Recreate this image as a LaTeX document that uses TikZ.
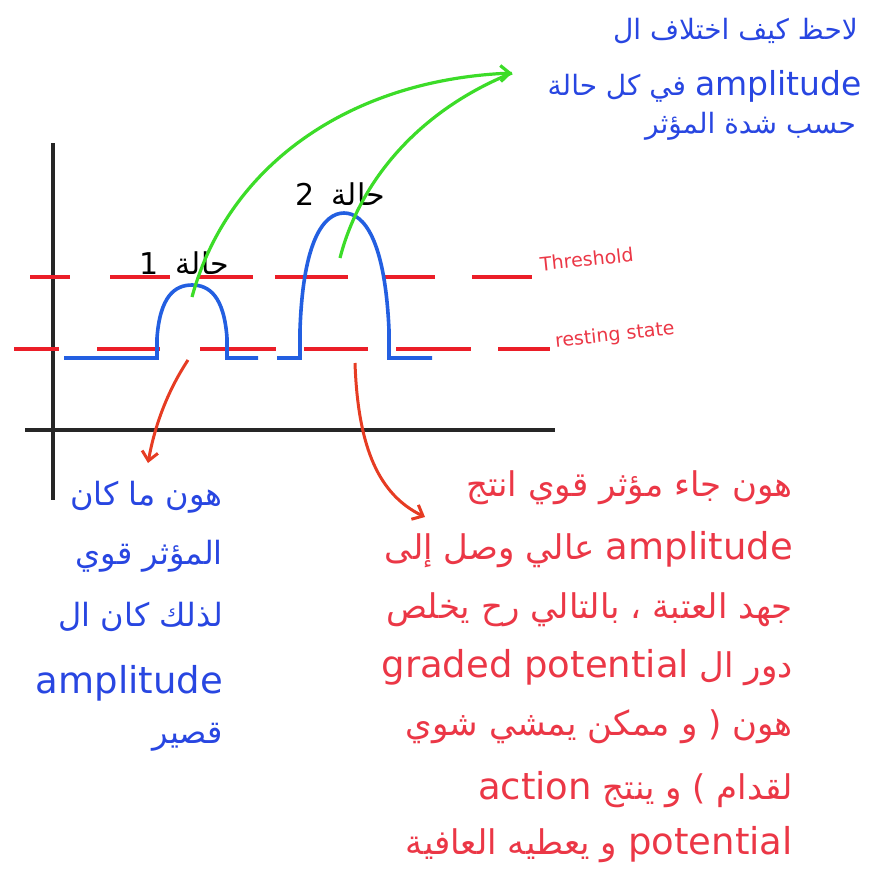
\documentclass[tikz,border=0pt]{standalone}
\usepackage{fontspec}
\usepackage{xcolor}
\usetikzlibrary{arrows.meta}
\setmainfont{DejaVu Sans}
\newfontfamily\arabicfont[Script=Arabic]{DejaVu Sans}
\TeXXeTstate=1

\definecolor{penblue}{RGB}{40,70,225}
\definecolor{traceblue}{RGB}{35,95,225}
\definecolor{penred}{RGB}{235,55,70}
\definecolor{linered}{RGB}{235,30,40}
\definecolor{arrowred}{RGB}{230,60,35}
\definecolor{pengreen}{RGB}{60,220,40}

\newcommand{\lat}[1]{\beginL{\fontsize{37}{40}\selectfont #1}\endL}
\newcommand{\toplat}[1]{\beginL{\fontsize{33}{36}\selectfont #1}\endL}

\tikzset{
  note/.style={anchor=east, inner sep=0pt, font=\arabicfont\fontsize{32}{36}\selectfont},
  bluenote/.style={note, text=penblue},
  rednote/.style={note, text=penred, font=\arabicfont\fontsize{34}{38}\selectfont},
  topnote/.style={bluenote, font=\arabicfont\fontsize{28}{32}\selectfont},
  casenote/.style={inner sep=0pt, font=\arabicfont\fontsize{30}{34}\selectfont},
  levelnote/.style={anchor=west, inner sep=0pt, text=penred, rotate=6, font=\fontsize{19}{22}\selectfont},
  axis/.style={line width=3.4pt, black!85},
  trace/.style={line width=3.6pt, traceblue},
  level/.style={line width=3.2pt, linered},
  greenarrow/.style={line width=3.2pt, pengreen},
  redarrow/.style={line width=3pt, arrowred, -{Straight Barb[length=9pt,width=16pt]}}
}

\begin{document}
\begin{tikzpicture}[x=1pt, y=-1pt]

    \useasboundingbox (0,0) rectangle (869,873);

    % Axes
    \draw[axis] (53,143) -- (53,500);
    \draw[axis] (25,430) -- (555,430);

    % Threshold and resting levels
    \foreach \a/\b in {30/70, 110/170, 197/253, 275/348, 382/435, 472/532}
        \draw[level] (\a,277) -- (\b,277);
    \foreach \a/\b in {14/59, 97/160, 200/276, 304/368, 396/471, 498/550}
        \draw[level] (\a,349) -- (\b,349);
    \node[levelnote] (thr) at (540,264) {Threshold};
    \node[levelnote] (rest) at (555,342) {resting state};

    % Case 1
    \draw[trace] (64,358) -- (157,358) -- (157,338)
        .. controls (160,296) and (175,285) .. (192,285)
        .. controls (209,285) and (224,296) .. (227,338)
        -- (227,358) -- (258,358);

    % Case 2
    \draw[trace] (277,358) -- (300,358) -- (300,330)
        .. controls (303,240) and (324,213) .. (344,213)
        .. controls (364,213) and (385,240) .. (389,330)
        -- (389,358) -- (432,358);

    % Case labels
    \node[casenote] (caseA) at (184,263) {\beginR حالة\hspace{8pt} 1\endR};
    \node[casenote] (caseB) at (340,194) {\beginR حالة\hspace{8pt} 2\endR};

    % Top note
    \node[topnote] (topA) at (858,31) {\beginR لاحظ كيف اختلاف ال\endR};
    \node[topnote] (topB) at (862,86) {\beginR\toplat{amplitude} في كل حالة\endR};
    \node[topnote] (topC) at (856,126) {\beginR حسب شدة المؤثر\endR};

    % Green arrows
    \coordinate (peakA) at (192,297);
    \coordinate (peakB) at (340,258);
    \coordinate (tipG) at (512,73);
    \draw[greenarrow, -{Straight Barb[length=9pt,width=16pt]}] (peakA) .. controls (228,165) and (350,80) .. (tipG);
    \draw[greenarrow] (peakB) .. controls (360,180) and (420,110) .. (tipG);

    % Left note
    \node[bluenote] (leftA) at (223,497) {\beginR هون ما كان\endR};
    \node[bluenote] (leftB) at (223,556) {\beginR المؤثر قوي\endR};
    \node[bluenote] (leftC) at (223,617) {\beginR لذلك كان ال\endR};
    \node[bluenote] (leftD) at (223,683) {\beginR\lat{amplitude}\endR};
    \node[bluenote] (leftE) at (223,737) {\beginR قصير\endR};

    % Right note
    \node[rednote] (rightA) at (793,488) {\beginR هون جاء مؤثر قوي انتج\endR};
    \node[rednote] (rightB) at (793,550) {\beginR\lat{amplitude} عالي وصل إلى\endR};
    \node[rednote] (rightC) at (793,610) {\beginR جهد العتبة ، بالتالي رح يخلص\endR};
    \node[rednote] (rightD) at (793,668) {\beginR دور ال \lat{graded potential}\endR};
    \node[rednote] (rightE) at (793,727) {\beginR هون ( و ممكن يمشي شوي\endR};
    \node[rednote] (rightF) at (793,790) {\beginR لقدام ) و ينتج \lat{action}\endR};
    \node[rednote] (rightG) at (793,845) {\beginR\lat{potential} و يعطيه العافية\endR};

    % Red arrows
    \coordinate (footA) at (188,360);
    \coordinate (footB) at (355,363);
    \coordinate (endA) at (148,463);
    \coordinate (endB) at (425,517);
    \draw[redarrow] (footA) .. controls (165,395) and (154,430) .. (endA);
    \draw[redarrow] (footB) .. controls (358,450) and (380,495) .. (endB);

\end{tikzpicture}
\end{document}
